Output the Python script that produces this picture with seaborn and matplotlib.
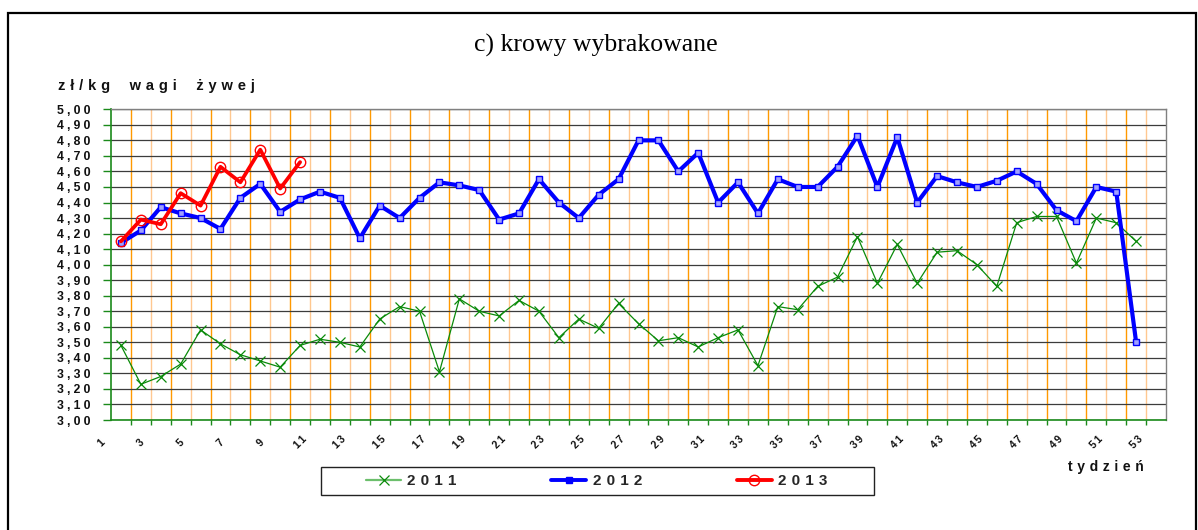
import numpy as np
import pandas as pd
import matplotlib
matplotlib.use("Agg")
import matplotlib.pyplot as plt
import seaborn as sns
from matplotlib.patches import Rectangle
from matplotlib.lines import Line2D

# --- data: prices of culled cows, zł per kg live weight, by week ---
weeks = list(range(2, 54))
price_2011 = [3.48, 3.23, 3.28, 3.36, 3.58, 3.49, 3.42, 3.38, 3.34, 3.48,
              3.52, 3.50, 3.47, 3.65, 3.73, 3.70, 3.31, 3.78, 3.70, 3.67,
              3.77, 3.70, 3.53, 3.65, 3.59, 3.75, 3.62, 3.51, 3.53, 3.47,
              3.53, 3.58, 3.35, 3.73, 3.71, 3.86, 3.92, 4.18, 3.88, 4.13,
              3.88, 4.08, 4.09, 4.00, 3.86, 4.27, 4.31, 4.31, 4.01, 4.30,
              4.27, 4.15]
price_2012 = [4.14, 4.22, 4.37, 4.33, 4.30, 4.23, 4.43, 4.52, 4.34, 4.42,
              4.47, 4.43, 4.17, 4.38, 4.30, 4.43, 4.53, 4.51, 4.48, 4.29,
              4.33, 4.55, 4.40, 4.30, 4.45, 4.55, 4.80, 4.80, 4.60, 4.72,
              4.40, 4.53, 4.33, 4.55, 4.50, 4.50, 4.63, 4.83, 4.50, 4.82,
              4.40, 4.57, 4.53, 4.50, 4.54, 4.60, 4.52, 4.35, 4.28, 4.50,
              4.47, 3.50]
weeks_2013 = list(range(2, 12))
price_2013 = [4.15, 4.29, 4.26, 4.46, 4.38, 4.63, 4.53, 4.74, 4.49, 4.66]
week_labels = list(range(1, 54, 2))
y_values = [round(3.0 + 0.1 * i, 2) for i in range(21)]
series_names = ["2011", "2012", "2013"]

title = "c) krowy wybrakowane"
y_title = "zł/kg wagi żywej"
x_title = "tydzień"

GAP = "\u2004"


def spaced(text, gap=GAP, word_gap=3):
    """Letter-spaced text, the way the spreadsheet draws it."""
    return (gap * word_gap).join(gap.join(word) for word in text.split(" "))


sns.set_theme(style="white")
plt.rcParams["font.family"] = ["Liberation Sans", "DejaVu Sans"]

W, H = 1198, 530
fig = plt.figure(figsize=(W / 100, H / 100), dpi=100)
fig.patch.set_facecolor("white")

left, right, top, bottom = 111, 1166, 109.3, 420
ax = fig.add_axes([left / W, 1 - bottom / H, (right - left) / W, (bottom - top) / H])
ax.set_facecolor("white")

df11 = pd.DataFrame({"week": weeks, "price": price_2011})
df12 = pd.DataFrame({"week": weeks, "price": price_2012})
df13 = pd.DataFrame({"week": weeks_2013, "price": price_2013})

sns.lineplot(data=df11, x="week", y="price", ax=ax, color="#0a8a0a", lw=0.9,
             marker="x", ms=7, mew=0.9, mec="#0a8a0a", zorder=3, legend=False)
sns.lineplot(data=df12, x="week", y="price", ax=ax, color="#0000ff", lw=3.0,
             marker="s", ms=4.2, mfc="#a0a0ff", mec="#0000ff", mew=1.0,
             zorder=4, legend=False)
sns.lineplot(data=df13, x="week", y="price", ax=ax, color="#ff0000", lw=2.7,
             marker="o", ms=7.5, mfc="none", mec="#ff0000", mew=1.0,
             zorder=5, legend=False)

ax.set_xlim(1.5, 54.5)
ax.set_ylim(3.0, 5.0)
ax.set_xlabel("")
ax.set_ylabel("")

# category boundaries: alternating dark / light orange gridlines
ax.set_xticks(np.arange(2.5, 54.0, 2.0))
ax.set_xticks(np.arange(3.5, 54.0, 2.0), minor=True)
ax.tick_params(axis="x", which="both", bottom=True, length=3.5, width=1,
               color="#1a8a1a", labelbottom=False, direction="out")
ax.grid(True, axis="x", which="major", color="#ff9900", lw=1.0)
ax.grid(True, axis="x", which="minor", color="#ffc890", lw=1.0)

ax.set_yticks(y_values)
ax.set_yticklabels([spaced(f"{v:.2f}".replace(".", ","), "\u2005") for v in y_values],
                   fontsize=8.8, fontweight="bold", color="#111111")
ax.tick_params(axis="y", left=True, length=5.5, width=1, color="#1a8a1a",
               pad=9)
ax.grid(True, axis="y", color="#3c3c3c", lw=0.9)
ax.set_axisbelow(True)

for side in ("left", "bottom"):
    ax.spines[side].set_color("#1a8a1a")
    ax.spines[side].set_linewidth(1.2)
for side in ("top", "right"):
    ax.spines[side].set_color("#808080")
    ax.spines[side].set_linewidth(1.0)

# week numbers, rotated
for w in week_labels:
    ax.text(w, -0.072, spaced(str(w), "\u2006"), transform=ax.get_xaxis_transform(),
            rotation=45, ha="center", va="center", fontsize=7.5,
            fontweight="bold", color="#111111", clip_on=False)

fig.text(0.497, 1 - 45 / H, title, family="Liberation Serif", fontsize=18.5,
         ha="center", va="center", color="black")
fig.text(58 / W, 1 - 86 / H, spaced(y_title, "\u2004", 4), fontsize=10.5,
         fontweight="bold", ha="left", va="center", color="#111111")
fig.text(1068 / W, 1 - 467 / H, spaced(x_title), fontsize=10, fontweight="bold",
         ha="left", va="center", color="#111111")

# legend
handles = [
    Line2D([], [], color="#6cbf6c", lw=1.6, marker="x", ms=7, mec="#0a8a0a", mew=0.9),
    Line2D([], [], color="#0000ff", lw=2.8, marker="s", ms=4.2, mfc="#0000ff", mec="#0000ff"),
    Line2D([], [], color="#ff0000", lw=2.8, marker="o", ms=7.5, mfc="none", mec="#ff0000", mew=1.0),
]
fig.legend(handles, [spaced(s) for s in series_names], loc="center left",
           bbox_to_anchor=(366 / W, 1 - 481 / H), bbox_transform=fig.transFigure,
           ncol=3, frameon=False, borderpad=0, borderaxespad=0,
           handlelength=2.3, handletextpad=0.4, columnspacing=6.2,
           prop={"size": 11, "weight": "bold"})
fig.patches.append(Rectangle((321 / W, 1 - 495 / H), (874 - 321) / W, 28 / H,
                             transform=fig.transFigure, fill=False,
                             edgecolor="#222222", lw=1.0))

# outer frame of the figure
fig.patches.append(Rectangle((8 / W, -0.05), (1196 - 8) / W, 1.05 - 13 / H,
                             transform=fig.transFigure, fill=False,
                             edgecolor="black", lw=1.6, clip_on=False))

fig.savefig("out.png", dpi=100, facecolor="white")
